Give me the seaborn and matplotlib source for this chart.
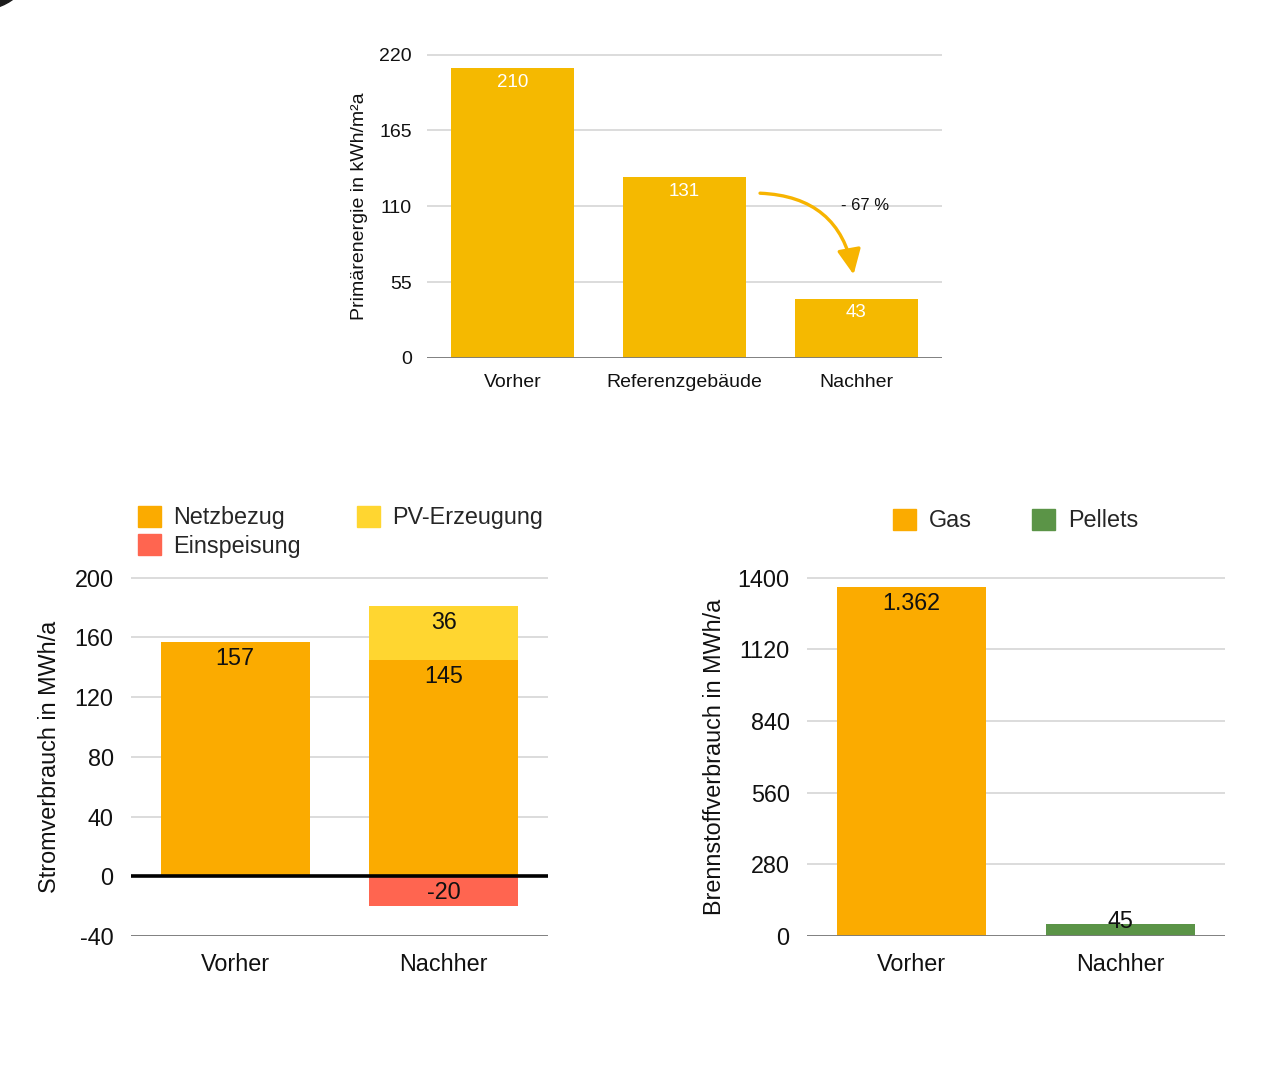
import numpy as np
import pandas as pd
import matplotlib
matplotlib.use("Agg")
import matplotlib.pyplot as plt
import seaborn as sns
from matplotlib.patches import Patch, Ellipse

# --- data -------------------------------------------------------------
pe_categories = ["Vorher", "Referenzgebäude", "Nachher"]
pe_values = [210, 131, 43]
pe_ticks = [0, 55, 110, 165, 220]
pe_reduction = "- 67 %"

strom_categories = ["Vorher", "Nachher"]
strom_netzbezug = [157, 145]
strom_pv = [0, 36]
strom_einspeisung = [0, -20]
strom_ticks = [-40, 0, 40, 80, 120, 160, 200]

fuel_categories = ["Vorher", "Nachher"]
fuel_types = ["Gas", "Pellets"]
fuel_values = [1362, 45]
fuel_ticks = [0, 280, 560, 840, 1120, 1400]

# --- colours ----------------------------------------------------------
PE_COLOR = "#F5B900"
NETZ_COLOR = "#FBAB00"
PV_COLOR = "#FFD630"
EINSP_COLOR = "#FF6550"
GAS_COLOR = "#FBAB00"
PELLET_COLOR = "#5B9447"
GRID = "#D6D6D6"
AXIS = "#7A7A7A"

sns.set_theme(style="white")
plt.rcParams["font.family"] = ["Liberation Sans", "DejaVu Sans"]

W, H = 1273, 1082
fig = plt.figure(figsize=(W / 100, H / 100), dpi=100)
fig.patch.set_facecolor("white")


def px_axes(left, top, right, bottom):
    return fig.add_axes([left / W, 1 - bottom / H, (right - left) / W, (bottom - top) / H])


def style_axis(ax, ticks, fs, ypad, xpad):
    ax.set_ylim(ticks[0], ticks[-1] + (ticks[-1] - ticks[0]) * 0.002)
    ax.set_yticks(ticks)
    ax.set_yticklabels([str(t) for t in ticks])
    for s in ax.spines.values():
        s.set_visible(False)
    ax.yaxis.grid(True, color=GRID, lw=1.2)
    ax.xaxis.grid(False)
    ax.set_axisbelow(True)
    ax.tick_params(axis="y", length=0, labelsize=fs, pad=ypad, colors="#111111")
    ax.tick_params(axis="x", length=0, labelsize=fs, pad=xpad, colors="#111111")
    ax.set_xlabel("")
    ax.set_facecolor("none")


def de_number(v):
    return f"{v:,}".replace(",", ".")


# --- Primärenergie ----------------------------------------------------
ax1 = px_axes(427, 54, 942, 358)
df_pe = pd.DataFrame({"Kategorie": pe_categories, "Wert": pe_values})
sns.barplot(data=df_pe, x="Kategorie", y="Wert", color=PE_COLOR, saturation=1,
            width=0.717, linewidth=0, ax=ax1)
style_axis(ax1, pe_ticks, 14, 11, 11.5)
ax1.axhline(0, color=AXIS, lw=1.3, zorder=3)
ax1.set_ylabel("Primärenergie in kWh/m²a", fontsize=14, color="#111111")
ax1.yaxis.set_label_coords(-0.115, 0.5)
for i, v in enumerate(pe_values):
    ax1.annotate(str(v), xy=(i, v), xytext=(0, -14), textcoords="offset pixels",
                 ha="center", va="center", color="white", fontsize=13.5)

ax1.annotate("", xy=(1.985, 60.5), xytext=(1.44, 119.5),
             arrowprops=dict(arrowstyle="-|>,head_length=0.85,head_width=0.4",
                             connectionstyle="arc3,rad=-0.4", color="#F7B400",
                             lw=2.4, mutation_scale=18, shrinkA=0, shrinkB=0))
ax1.text(2.05, 110.7, pe_reduction, ha="center", va="center", fontsize=12,
         color="#111111")

# --- Stromverbrauch ---------------------------------------------------
ax2 = px_axes(131, 577, 548, 936)
df_strom = pd.DataFrame({
    "Kategorie": strom_categories,
    "Netzbezug": strom_netzbezug,
    "PV": strom_pv,
    "Einspeisung": strom_einspeisung,
})
df_strom["Gesamt"] = df_strom["Netzbezug"] + df_strom["PV"]
sns.barplot(data=df_strom, x="Kategorie", y="Gesamt", color=PV_COLOR, saturation=1,
            width=0.715, linewidth=0, ax=ax2)
sns.barplot(data=df_strom, x="Kategorie", y="Netzbezug", color=NETZ_COLOR, saturation=1,
            width=0.715, linewidth=0, ax=ax2)
sns.barplot(data=df_strom, x="Kategorie", y="Einspeisung", color=EINSP_COLOR, saturation=1,
            width=0.715, linewidth=0, ax=ax2)
style_axis(ax2, strom_ticks, 16.8, 12.5, 12)
ax2.axhline(-40, color=AXIS, lw=1.3, zorder=3)
ax2.axhline(0, color="black", lw=2.6, zorder=4)
ax2.set_ylabel("Stromverbrauch in MWh/a", fontsize=16.8, color="#111111")
ax2.yaxis.set_label_coords(-0.168, 0.5)

for i, row in df_strom.iterrows():
    segments = [(row["Netzbezug"], row["Netzbezug"]),
                (row["PV"], row["Gesamt"]),
                (row["Einspeisung"], 0)]
    for val, top in segments:
        if val == 0:
            continue
        ax2.annotate(str(val), xy=(i, top), xytext=(0, -16.5), textcoords="offset pixels",
                     ha="center", va="center", color="#111111", fontsize=16.8, zorder=5)

fig.legend(handles=[Patch(color=NETZ_COLOR, label="Netzbezug"),
                    Patch(color=EINSP_COLOR, label="Einspeisung"),
                    Patch(color=PV_COLOR, label="PV-Erzeugung")],
           loc="upper left", bbox_to_anchor=(138 / W, 1 - 506 / H), ncol=2,
           frameon=False, fontsize=16.8, handlelength=1.0, handleheight=1.0,
           handletextpad=0.5, labelspacing=0.2, columnspacing=2.4,
           borderpad=0, borderaxespad=0)

# --- Brennstoffverbrauch ---------------------------------------------
ax3 = px_axes(807, 577, 1225, 936)
df_fuel = pd.DataFrame({"Kategorie": fuel_categories, "Brennstoff": fuel_types,
                        "Wert": fuel_values})
sns.barplot(data=df_fuel, x="Kategorie", y="Wert", hue="Brennstoff",
            palette=[GAS_COLOR, PELLET_COLOR], saturation=1, dodge=False,
            width=0.713, linewidth=0, legend=False, ax=ax3)
style_axis(ax3, fuel_ticks, 16.8, 12.5, 12)
ax3.axhline(0, color=AXIS, lw=1.3, zorder=3)
ax3.set_ylabel("Brennstoffverbrauch in MWh/a", fontsize=16.8, color="#111111")
ax3.yaxis.set_label_coords(-0.194, 0.5)
for i, v in enumerate(fuel_values):
    offset = -16 if v > 200 else 3
    ax3.annotate(de_number(v), xy=(i, v), xytext=(0, offset), textcoords="offset pixels",
                 ha="center", va="center", color="#111111", fontsize=16.8, zorder=5)

fig.legend(handles=[Patch(color=GAS_COLOR, label="Gas"),
                    Patch(color=PELLET_COLOR, label="Pellets")],
           loc="upper left", bbox_to_anchor=(893 / W, 1 - 509 / H), ncol=2,
           frameon=False, fontsize=16.8, handlelength=1.0, handleheight=1.0,
           handletextpad=0.55, columnspacing=2.55, borderpad=0, borderaxespad=0)

# dark rounded corner at the top left of the page
fig.add_artist(Ellipse((-20 / W, 1 + 46 / H), 2 * 56 / W, 2 * 56 / H,
                       transform=fig.transFigure, color="#1c1c1c", zorder=10))

fig.savefig("out.png", dpi=100, facecolor="white")
